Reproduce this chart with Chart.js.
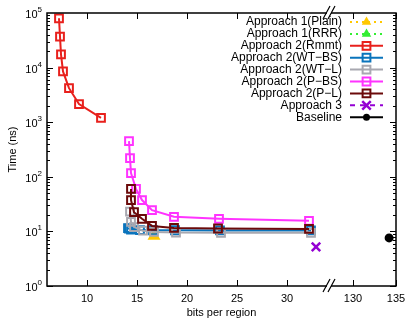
<!DOCTYPE html>
<html>
<head>
<meta charset="utf-8">
<script src="https://cdn.jsdelivr.net/npm/chart.js@4/dist/chart.umd.min.js"></script>
<style>
html, body { margin: 0; padding: 0; background: #fff; }
#wrap { width: 407px; height: 324px; }
</style>
</head>
<body>
<div id="wrap"><canvas id="c" width="407" height="324"></canvas></div>
<script>
// values
const plainBits = [16.7];
const plainTime = [8.2];
const rrrBits = [];
const rrrTime = [];
const rmmtBits = [7.2, 7.3, 7.4, 7.6, 8.2, 9.2, 11.4];
const rmmtTime = [80000, 37000, 17500, 8500, 4200, 2150, 1200];
const wtbsBits = [14.1, 14.2, 14.4, 15.3, 16.6, 18.8, 23.3, 32.4];
const wtbsTime = [11.5, 11.2, 10.8, 10.6, 10.5, 10.5, 10.4, 10.4];
const wtlBits = [14.3, 14.4, 14.7, 15.6, 16.7, 18.9, 23.4, 32.4];
const wtlTime = [23, 15, 12, 10.3, 9.8, 9.5, 9.4, 9.4];
const pbsBits = [14.2, 14.3, 14.4, 14.9, 15.5, 16.5, 18.7, 23.2, 32.2];
const pbsTime = [450, 220, 117, 60, 37.5, 24.5, 18.5, 17, 15.6];
const plBits = [14.4, 14.4, 14.7, 15.5, 16.5, 18.7, 23.1, 32.2];
const plTime = [60, 37.5, 22.5, 17, 12.6, 11.6, 11.3, 11.1];
const a3Bits = [32.9];
const a3Time = [5.2];
const baseBits = [134.2];
const baseTime = [7.6];

const xTickLabels = [10, 15, 20, 25, 30, 130, 135];
const yTickExps = [0, 1, 2, 3, 4, 5];

// broken x axis: left part 1:1, right part squeezed
const BREAK_AT = 34.2;
function axisX(b) { return b < 100 ? b : 36.6 + (b - 130) * 0.86; }
function pts(xs, ys) { return xs.map((x, i) => ({ x: axisX(x), y: ys[i] })); }

const FONT = "'Liberation Sans', Arial, sans-serif";

const series = [
  { label: 'Approach 1(Plain)', data: pts(plainBits, plainTime), color: '#ffc800', style: 'triangle', r: 5.5, fill: true, dash: [2, 4], showLine: false },
  { label: 'Approach 1(RRR)', data: pts(rrrBits, rrrTime), color: '#33ee33', style: 'triangle', r: 5.5, fill: true, dash: [2, 4], showLine: false },
  { label: 'Approach 2(Rmmt)', data: pts(rmmtBits, rmmtTime), color: '#e8201c', style: 'rect', r: 5.5, fill: false, dash: [], showLine: true },
  { label: 'Approach 2(WT\u2212BS)', data: pts(wtbsBits, wtbsTime), color: '#0a74bc', style: 'rect', r: 5.5, fill: false, dash: [], showLine: true },
  { label: 'Approach 2(WT\u2212L)', data: pts(wtlBits, wtlTime), color: '#a8a8b0', style: 'rect', r: 5.5, fill: false, dash: [], showLine: true },
  { label: 'Approach 2(P\u2212BS)', data: pts(pbsBits, pbsTime), color: '#ff33ff', style: 'rect', r: 5.5, fill: false, dash: [], showLine: true },
  { label: 'Approach 2(P\u2212L)', data: pts(plBits, plTime), color: '#6b0a0a', style: 'rect', r: 5.5, fill: false, dash: [], showLine: true },
  { label: 'Approach 3', data: pts(a3Bits, a3Time), color: '#9400d3', style: 'crossRot', r: 6, fill: false, dash: [5, 5], showLine: false },
  { label: 'Baseline', data: pts(baseBits, baseTime), color: '#000000', style: 'circle', r: 3.5, fill: true, dash: [], showLine: false }
];

const datasets = series.map((s, i) => ({
  label: s.label,
  data: s.data,
  order: -i, // later series on top, like gnuplot
  showLine: s.showLine,
  borderColor: s.color,
  borderWidth: 2,
  pointStyle: s.style,
  pointRadius: s.r,
  pointBorderWidth: s.style === 'crossRot' ? 2.5 : 2,
  pointBorderColor: s.color,
  pointBackgroundColor: s.fill ? s.color : 'rgba(0,0,0,0)'
}));

function drawMarker(ctx, s, x, y) {
  ctx.save();
  ctx.setLineDash([]);
  ctx.strokeStyle = s.color;
  ctx.fillStyle = s.color;
  ctx.lineWidth = s.style === 'crossRot' ? 2.5 : 2;
  ctx.beginPath();
  if (s.style === 'rect') {
    const h = s.r * Math.SQRT1_2;
    ctx.rect(x - h, y - h, 2 * h, 2 * h);
    ctx.stroke();
  } else if (s.style === 'triangle') {
    const r = s.r;
    ctx.moveTo(x, y - r);
    ctx.lineTo(x + r * 0.866, y + r * 0.5);
    ctx.lineTo(x - r * 0.866, y + r * 0.5);
    ctx.closePath();
    ctx.fill();
  } else if (s.style === 'crossRot') {
    const h = s.r * Math.SQRT1_2;
    ctx.moveTo(x - h, y - h); ctx.lineTo(x + h, y + h);
    ctx.moveTo(x + h, y - h); ctx.lineTo(x - h, y + h);
    ctx.stroke();
  } else {
    ctx.arc(x, y, s.r, 0, Math.PI * 2);
    ctx.fill();
  }
  ctx.restore();
}

const frame = {
  id: 'frame',
  afterDraw(chart) {
    const ctx = chart.ctx;
    const a = chart.chartArea;
    const xs = chart.scales.x, ys = chart.scales.y;
    ctx.save();
    ctx.strokeStyle = '#000';
    ctx.lineWidth = 1.5;
    ctx.setLineDash([]);
    ctx.strokeRect(a.left, a.top, a.right - a.left, a.bottom - a.top);

    // y ticks, both sides, with minors
    ctx.lineWidth = 1;
    ctx.beginPath();
    for (let e = 0; e < 5; e++) {
      for (let m = 1; m < 10; m++) {
        const py = Math.round(ys.getPixelForValue(m * Math.pow(10, e))) + 0.5;
        const len = m === 1 ? 6 : 3;
        ctx.moveTo(a.left, py); ctx.lineTo(a.left + len, py);
        ctx.moveTo(a.right, py); ctx.lineTo(a.right - len, py);
      }
    }
    // x ticks, bottom and top
    xTickLabels.forEach(v => {
      const px = Math.round(xs.getPixelForValue(axisX(v))) + 0.5;
      ctx.moveTo(px, a.bottom); ctx.lineTo(px, a.bottom - 6);
      ctx.moveTo(px, a.top); ctx.lineTo(px, a.top + 6);
    });
    ctx.stroke();

    // axis break marks
    const bx = xs.getPixelForValue(BREAK_AT);
    [a.top, a.bottom].forEach(yy => {
      ctx.fillStyle = '#fff';
      ctx.fillRect(bx - 2, yy - 2, 4, 4);
      ctx.strokeStyle = '#000';
      ctx.lineWidth = 1.2;
      ctx.beginPath();
      ctx.moveTo(bx - 6, yy + 6); ctx.lineTo(bx + 1, yy - 7);
      ctx.moveTo(bx - 1, yy + 6); ctx.lineTo(bx + 6, yy - 7);
      ctx.stroke();
    });

    // tick labels
    ctx.fillStyle = '#000';
    ctx.font = '11px ' + FONT;
    ctx.textAlign = 'center';
    ctx.textBaseline = 'top';
    xTickLabels.forEach(v => {
      ctx.fillText(String(v), xs.getPixelForValue(axisX(v)), a.bottom + 7);
    });
    yTickExps.forEach(e => {
      const py = ys.getPixelForValue(Math.pow(10, e));
      ctx.font = '8px ' + FONT;
      ctx.textAlign = 'right';
      ctx.textBaseline = 'alphabetic';
      const ew = ctx.measureText(String(e)).width;
      ctx.fillText(String(e), a.left - 5, py - 1);
      ctx.font = '11px ' + FONT;
      ctx.textBaseline = 'middle';
      ctx.fillText('10', a.left - 5 - ew, py + 2);
    });

    // axis titles
    ctx.font = '11px ' + FONT;
    ctx.textAlign = 'center';
    ctx.textBaseline = 'middle';
    ctx.fillText('bits per region', (a.left + a.right) / 2, 313);
    ctx.save();
    ctx.translate(13, (a.top + a.bottom) / 2);
    ctx.rotate(-Math.PI / 2);
    ctx.fillText('Time (ns)', 0, 0);
    ctx.restore();

    // gnuplot-style key
    ctx.font = '12px ' + FONT;
    ctx.textAlign = 'right';
    ctx.textBaseline = 'middle';
    series.forEach((s, i) => {
      const ry = 22 + i * 11.9;
      ctx.fillStyle = '#000';
      ctx.fillText(s.label, 342, ry);
      ctx.strokeStyle = s.color;
      ctx.lineWidth = 2;
      ctx.setLineDash(s.dash);
      ctx.beginPath();
      ctx.moveTo(350, ry); ctx.lineTo(383, ry);
      ctx.stroke();
      ctx.setLineDash([]);
      drawMarker(ctx, s, 366.5, ry);
    });
    ctx.restore();
  }
};

new Chart(document.getElementById('c'), {
  type: 'scatter',
  data: { datasets },
  options: {
    responsive: false,
    animation: false,
    layout: { padding: { left: 47, right: 11, top: 13, bottom: 38 } },
    plugins: { legend: { display: false }, tooltip: { enabled: false } },
    scales: {
      x: { type: 'linear', min: 6, max: 40.9, display: false },
      y: { type: 'logarithmic', min: 1, max: 100000, display: false }
    }
  },
  plugins: [frame]
});
</script>
</body>
</html>
